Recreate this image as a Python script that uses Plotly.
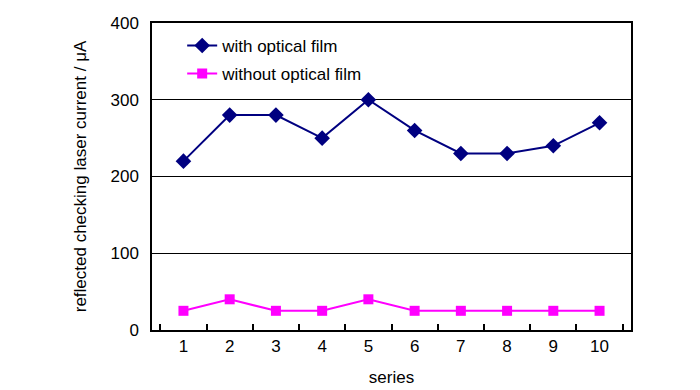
import plotly.graph_objects as go

categories = [1, 2, 3, 4, 5, 6, 7, 8, 9, 10]
with_film = [220, 280, 280, 250, 300, 260, 230, 230, 240, 270]
without_film = [25, 40, 25, 25, 40, 25, 25, 25, 25, 25]
y_ticks = [0, 100, 200, 300, 400]

FONT = "Liberation Sans, Arial, sans-serif"
cats = [str(c) for c in categories]

fig = go.Figure()
fig.add_trace(go.Scatter(
    x=cats, y=with_film, mode="lines+markers", name="with optical film",
    legendgroup="a",
    line=dict(color="#000080", width=2),
    marker=dict(symbol="diamond", size=12, color="#000080"),
))
fig.add_trace(go.Scatter(
    x=cats, y=without_film, mode="lines+markers", name="without optical film",
    legendgroup="b",
    line=dict(color="#FF00FF", width=2),
    marker=dict(symbol="square", size=10, color="#FF00FF"),
))

fig.update_layout(
    width=700, height=390,
    margin=dict(l=144, r=77, t=15, b=68),
    paper_bgcolor="white", plot_bgcolor="white",
    font=dict(family=FONT, size=17, color="black"),
    showlegend=True,
    legend=dict(x=0.063, y=0.984, xanchor="left", yanchor="top",
                bgcolor="rgba(0,0,0,0)", font=dict(size=17),
                tracegroupgap=3),
)
fig.update_xaxes(
    type="category", automargin=False,
    showgrid=False, zeroline=False,
    showline=True, linecolor="black", linewidth=1.5, mirror=True,
    ticks="inside", tickson="boundaries", ticklen=6, tickcolor="black", tickwidth=1.5,
    title=dict(text="series", standoff=16, font=dict(family=FONT, size=17)),
)
fig.update_yaxes(
    range=[0, 400], tickvals=y_ticks, automargin=False,
    showgrid=True, gridcolor="black", gridwidth=1.2, zeroline=False,
    showline=True, linecolor="black", linewidth=1.5, mirror=True,
    ticks="", ticklabelstandoff=8,
    title=dict(text="reflected checking laser current / μA", standoff=20,
               font=dict(family=FONT, size=17)),
)

fig.write_html("out.html")
